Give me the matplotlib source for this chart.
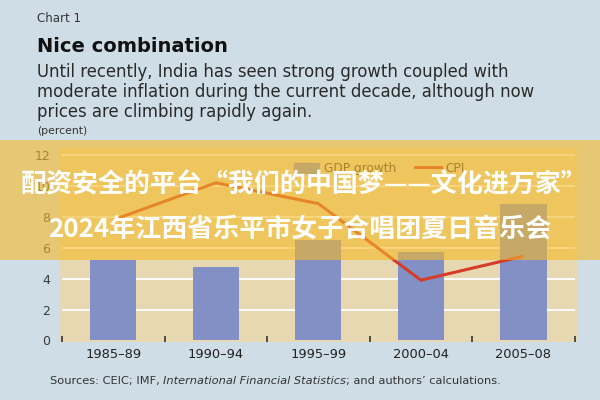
import numpy as np
import matplotlib
matplotlib.use("Agg")
import matplotlib.pyplot as plt
from matplotlib.patches import Rectangle, Patch
from matplotlib.lines import Line2D

# data (percent)
periods = ["1985\u201389", "1990\u201394", "1995\u201399", "2000\u201304", "2005\u201308"]
gdp_growth = [5.2, 4.75, 6.5, 5.75, 8.8]
cpi = [7.8, 10.2, 8.85, 3.9, 5.45]
yticks = [0, 2, 4, 6, 8, 10, 12]

bg_blue = "#cfdde6"
plot_bg = "#e7d8b1"
bar_col = "#8290c6"
line_col = "#d43c28"
txt_col = "#222222"

plt.rcParams['font.family'] = ['DejaVu Sans']

fig = plt.figure(figsize=(6, 4), dpi=100, facecolor=bg_blue)
ax = fig.add_axes([0.1, 0.145, 0.863, 0.485])
ax.set_facecolor(plot_bg)

x = np.arange(len(periods))
ax.bar(x, gdp_growth, width=0.45, color=bar_col, zorder=3)
ax.plot(x, cpi, color=line_col, lw=2.2, zorder=4, solid_capstyle='butt')

for y in yticks[1:]:
    ax.hlines(y, -0.5, 4.5, color="white", lw=1.3, zorder=2)

ax.set_xlim(-0.52, 4.53)
ax.set_ylim(-0.1, 12.45)
for s in ax.spines.values():
    s.set_visible(False)

ax.set_yticks(yticks)
ax.set_yticklabels([str(v) for v in yticks], fontsize=9, color="#3a3a3a")
ax.tick_params(axis='y', length=0, pad=7)

# category labels in the middle, small ticks at the boundaries
ax.set_xticks(x)
ax.set_xticklabels(periods, fontsize=9.4, color=txt_col)
ax.tick_params(axis='x', length=0, pad=4)
ax.set_xticks(np.arange(-0.5, 5, 1), minor=True)
ax.tick_params(axis='x', which='minor', length=4, width=1.2, color="#333333", direction='in')

handles = [Patch(color=bar_col, label="GDP growth"),
           Line2D([0], [0], color=line_col, lw=2.2, label="CPI")]
ax.legend(handles=handles, loc='upper left', bbox_to_anchor=(0.43, 0.985), ncol=2,
          frameon=False, fontsize=8.7, handlelength=2.1, handleheight=0.9,
          columnspacing=1.6, handletextpad=0.4, labelcolor="#333333")

# header text
fig.text(0.062, 0.955, "Chart 1", fontsize=8.5, color="#333333", va='center')
fig.text(0.062, 0.885, "Nice combination", fontsize=14, fontweight='bold', color="#111111", va='center')
body = ["Until recently, India has seen strong growth coupled with",
        "moderate inflation during the current decade, although now",
        "prices are climbing rapidly again."]
for i, line in enumerate(body):
    fig.text(0.062, 0.82 - i * 0.05, line, fontsize=11.9, color="#2a2a2a", va='center')
fig.text(0.062, 0.672, "(percent)", fontsize=7.8, color="#333333", va='center')

# sources line, with the italic title in the middle
src_y = 0.04
fs = 8.2
t1 = fig.text(0.083, src_y, "Sources: CEIC; IMF, ", fontsize=fs, color="#333333", va='baseline')
fig.canvas.draw()
r = fig.canvas.get_renderer()
w1 = t1.get_window_extent(r).x1 / fig.bbox.width
t2 = fig.text(w1, src_y, "International Financial Statistics", fontsize=fs,
              style='italic', color="#333333", va='baseline')
w2 = t2.get_window_extent(r).x1 / fig.bbox.width
fig.text(w2, src_y, "; and authors\u2019 calculations.", fontsize=fs, color="#333333", va='baseline')

# orange banner with the overlay caption
fig.patches.append(Rectangle((0, 0.35), 1, 0.30, transform=fig.transFigure,
                             facecolor="#f5b928", alpha=0.6, zorder=10, edgecolor='none'))
cjk = ['Noto Sans CJK SC', 'DejaVu Sans']
fig.text(0.507, 0.537, "配资安全的平台\u201c我们的中国梦——文化进万家\u201d", fontsize=18.7,
         fontweight='bold', color="white", ha='center', va='center', family=cjk, zorder=11)
fig.text(0.5, 0.427, "2024年江西省乐平市女子合唱团夏日音乐会", fontsize=18.7,
         fontweight='bold', color="white", ha='center', va='center', family=cjk, zorder=11)

fig.savefig("out.png", dpi=100, facecolor=bg_blue)
